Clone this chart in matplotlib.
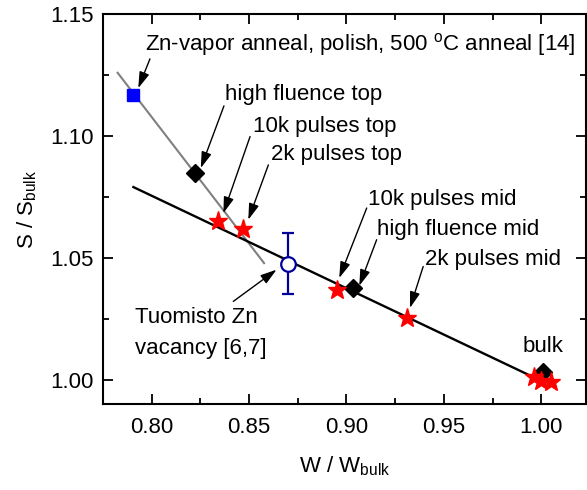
import matplotlib
matplotlib.use("Agg")
import matplotlib.pyplot as plt
from matplotlib.ticker import MultipleLocator

plt.rcParams['font.family'] = ['Liberation Sans', 'DejaVu Sans']
plt.rcParams['mathtext.fontset'] = 'custom'
plt.rcParams['mathtext.rm'] = 'Liberation Sans'
plt.rcParams['mathtext.it'] = 'Liberation Sans:italic'
plt.rcParams['mathtext.bf'] = 'Liberation Sans:bold'

# ---- data ----
# Zn-vapor anneal reference point
zn_w = [0.7906]
zn_s = [1.1168]
# black diamonds: high fluence top, high fluence mid, bulk
dia_w = [0.8222, 0.9035, 1.0007]
dia_s = [1.0847, 1.0376, 1.0032]
# red stars: 10k top, 2k top, 10k mid, 2k mid, bulk (several)
star_w = [0.8339, 0.8470, 0.8950, 0.9309, 0.9965, 1.0000, 1.0051]
star_s = [1.0649, 1.0618, 1.0366, 1.0253, 1.0009, 0.9996, 0.9989]
# Tuomisto Zn vacancy with error bar
tu_w = [0.8701]
tu_s = [1.0476]
tu_err = [0.0125]
# fit lines
gray_line_w = [0.7825, 0.8577]
gray_line_s = [1.1259, 1.0478]
black_line_w = [0.7906, 1.0000]
black_line_s = [1.0790, 0.9995]

# annotations: label, text position (left, center), arrow tail, arrow tip
labels = ["Zn-vapor anneal, polish, 500 $^{\\mathrm{o}}$C anneal [14]",
          "high fluence top", "10k pulses top", "2k pulses top",
          "10k pulses mid", "high fluence mid", "2k pulses mid",
          "Tuomisto Zn\nvacancy [6,7]", "bulk"]
text_x = [0.7966, 0.8376, 0.8518, 0.8611, 0.9112, 0.9155, 0.9403, 0.7914, 0.9905]
text_y = [1.1373, 1.1168, 1.1038, 1.0925, 1.0738, 1.0615, 1.0492, 1.0191, 1.0136]
tail_x = [0.7991, 0.8371, 0.8505, 0.8599, 0.9104, 0.9155, 0.9394, 0.8419, None]
tail_y = [1.1316, 1.1123, 1.0997, 1.0881, 1.0704, 1.0574, 1.0464, 1.0321, None]
tip_x = [0.7931, 0.8252, 0.8368, 0.8496, 0.8963, 0.9066, 0.9326, 0.8641, None]
tip_y = [1.1196, 1.0868, 1.0683, 1.0656, 1.0417, 1.0385, 1.0294, 1.0451, None]

fig = plt.figure(figsize=(5.87, 4.90), dpi=100)
ax = fig.add_axes([0.1755, 0.1755, 0.9983 - 0.1755, 0.9714 - 0.1755])

ax.plot(gray_line_w, gray_line_s, color='#808080', lw=1.5, zorder=2)
ax.plot(black_line_w, black_line_s, color='black', lw=1.7, zorder=2)

ax.plot(dia_w, dia_s, 'D', color='black', markersize=9, zorder=3, linestyle='none')
ax.plot(star_w, star_s, '*', color='red', markersize=14, markeredgecolor='red',
        zorder=4, linestyle='none')
ax.plot(zn_w, zn_s, 's', color='#0000ff', markersize=9, zorder=4, linestyle='none')
ax.errorbar(tu_w, tu_s, yerr=tu_err, fmt='o', color='#000099', ecolor='#000099',
            markerfacecolor='white', markeredgecolor='#000099', markersize=10.5,
            markeredgewidth=1.6, elinewidth=1.6, capsize=4.5, capthick=1.6, zorder=5)

fs = 16
for i, lab in enumerate(labels):
    ax.text(text_x[i], text_y[i], lab, fontsize=fs, ha='left', va='center',
            linespacing=1.6, zorder=6)
    if tail_x[i] is not None:
        ax.annotate('', xy=(tip_x[i], tip_y[i]), xytext=(tail_x[i], tail_y[i]),
                    arrowprops=dict(arrowstyle='-|>,head_length=0.7,head_width=0.22',
                                    color='black', lw=1.0,
                                    mutation_scale=14, shrinkA=0, shrinkB=0),
                    zorder=6)

ax.set_xlim(0.775, 1.023)
ax.set_ylim(0.990, 1.15)
ax.xaxis.set_major_locator(MultipleLocator(0.05))
ax.xaxis.set_minor_locator(MultipleLocator(0.025))
ax.yaxis.set_major_locator(MultipleLocator(0.05))
ax.yaxis.set_minor_locator(MultipleLocator(0.025))
ax.xaxis.set_major_formatter(matplotlib.ticker.FormatStrFormatter('%.2f'))
ax.yaxis.set_major_formatter(matplotlib.ticker.FormatStrFormatter('%.2f'))
ax.tick_params(which='both', direction='in', top=True, right=True, width=1.3,
               labelsize=fs)
ax.tick_params(which='major', length=7)
ax.tick_params(which='minor', length=4.5)
ax.tick_params(axis='x', pad=9)
ax.tick_params(axis='y', pad=7)
for sp in ax.spines.values():
    sp.set_linewidth(1.5)

ax.set_xlabel('W / W$_{\\mathrm{bulk}}$', fontsize=fs, labelpad=12)
ax.set_ylabel('S / S$_{\\mathrm{bulk}}$', fontsize=fs, labelpad=8)

fig.savefig('out.png', dpi=100)
